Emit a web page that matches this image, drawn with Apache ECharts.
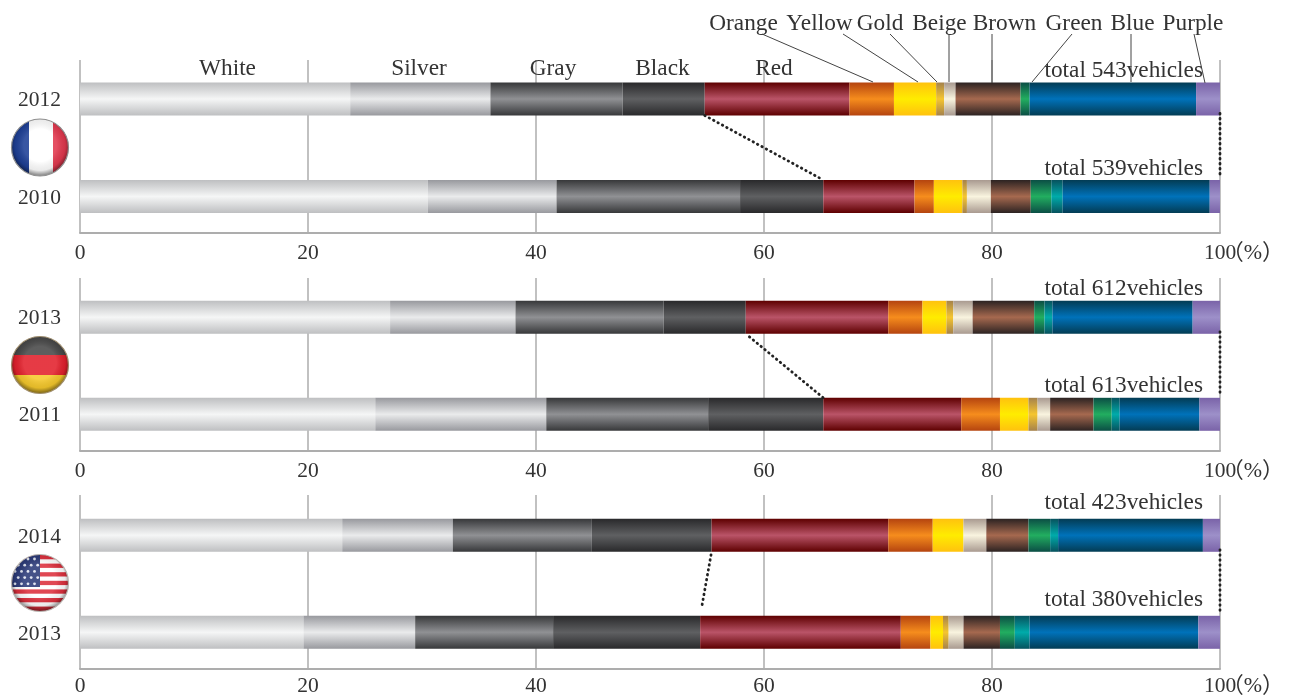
<!DOCTYPE html>
<html>
<head>
<meta charset="utf-8">
<title>Body colours</title>
<style>
    html, body { margin: 0; padding: 0; background: #fff; }
    #main { width: 1289px; height: 695px; }
</style>
<script src="https://cdn.jsdelivr.net/npm/echarts@6/dist/echarts.min.js"></script>
</head>
<body>
<div id="main"></div>
<script>
// rows: France 2012, France 2010, Germany 2013, Germany 2011, USA 2014, USA 2013
var years = ['2012', '2010', '2013', '2011', '2014', '2013'];
var totals = [543, 539, 612, 613, 423, 380];
var tickValues = [0, 20, 40, 60, 80, 100];

var white = [23.7, 30.5, 27.2, 25.9, 23.0, 19.6];
var silver = [12.3, 11.3, 11.0, 15.0, 9.7, 9.8];
var gray = [11.6, 16.1, 13.0, 14.2, 12.2, 12.1];
var black = [7.2, 7.3, 7.2, 10.1, 10.5, 12.9];
var red = [12.7, 8.0, 12.5, 12.1, 15.5, 17.6];
var orange = [3.9, 1.7, 3.0, 3.4, 3.9, 2.6];
var yellow = [3.7, 2.5, 2.1, 2.5, 2.7, 1.1];
var gold = [0.7, 0.4, 0.6, 0.8, 0, 0.5];
var beige = [1.0, 2.1, 1.7, 1.1, 2.0, 1.3];
var brown = [5.7, 3.5, 5.4, 3.8, 3.7, 3.2];
var green = [0.8, 1.8, 0.9, 1.6, 1.9, 1.3];
var teal = [0, 1.0, 0.7, 0.7, 0.7, 1.3];
var blue = [14.6, 12.9, 12.3, 7.0, 12.7, 14.8];
var purple = [2.1, 0.9, 2.4, 1.8, 1.5, 1.9];

var segments = [
    { name: 'White', values: white, edge: '#bebfc1', mid: '#f5f6f6' },
    { name: 'Silver', values: silver, edge: '#98999e', mid: '#eaebec' },
    { name: 'Gray', values: gray, edge: '#37383a', mid: '#909194' },
    { name: 'Black', values: black, edge: '#29292b', mid: '#5f6062' },
    { name: 'Red', values: red, edge: '#5e0000', mid: '#ba5468' },
    { name: 'Orange', values: orange, edge: '#b5440f', mid: '#f68d1d' },
    { name: 'Yellow', values: yellow, edge: '#ffc20e', mid: '#ffec00' },
    { name: 'Gold', values: gold, edge: '#a5824c', mid: '#f5c52f' },
    { name: 'Beige', values: beige, edge: '#a99a90', mid: '#f9f4df' },
    { name: 'Brown', values: brown, edge: '#2c2322', mid: '#a6694f' },
    { name: 'Green', values: green, edge: '#0b4e45', mid: '#22ae60' },
    { name: 'Teal', values: teal, edge: '#07525e', mid: '#00abaa' },
    { name: 'Blue', values: blue, edge: '#033c54', mid: '#0072ba' },
    { name: 'Purple', values: purple, edge: '#7a63a8', mid: '#9d90c9' }
];

// layout of the three panels, pixels
var serif = '"Liberation Serif", "Noto Sans CJK JP", serif';
var textColor = '#333';
var axisColor = '#adadad';
var barHeight = 33;
var panels = [
    { top: 60, bottom: 233, rows: [99, 196.5], gaps: [[0, 0], [-2, 5]], tickMargin: 10, tickY: 253, labelLine: 3 },
    { top: 278, bottom: 451, rows: [317.3, 414.3], gaps: [[3, 0], [-2, 5]], tickMargin: 10, tickY: 471, labelLine: 3 },
    { top: 495, bottom: 669, rows: [535.3, 632.3], gaps: [[3, 7], [-2, 4]], tickMargin: 7, tickY: 686, labelLine: 4 }
];

// 上方文字和引线
var topLabels = [
    { text: 'Orange', x: 743.5, from: [762, 34], to: [873, 82] },
    { text: 'Yellow', x: 819.5, from: [843, 34], to: [918, 82] },
    { text: 'Gold', x: 880, from: [890, 34], to: [937, 82] },
    { text: 'Beige', x: 939.5, from: [949, 34], to: [949, 82] },
    { text: 'Brown', x: 1004.5, from: [992, 34], to: [992, 83] },
    { text: 'Green', x: 1074, from: [1072, 34], to: [1032, 82] },
    { text: 'Blue', x: 1132.5, from: [1131, 34], to: [1131, 82] },
    { text: 'Purple', x: 1193, from: [1194, 34], to: [1205, 83] }
];
var midLabels = [
    { text: 'White', x: 227.5 },
    { text: 'Silver', x: 419 },
    { text: 'Gray', x: 553 },
    { text: 'Black', x: 662.5 },
    { text: 'Red', x: 774 }
];
var totalLabelY = [69, 167, 287, 384, 501, 598];

var flagShade = function(inner, ring) {
    var svg = '<svg xmlns="http://www.w3.org/2000/svg" width="62" height="62" viewBox="0 0 62 62">' +
        '<defs><clipPath id="c"><circle cx="31" cy="31" r="28.5"/></clipPath>' +
        '<radialGradient id="s" cx="50%" cy="46%" r="52%">' +
        '<stop offset="0.55" stop-color="#fff" stop-opacity="0.12"/>' +
        '<stop offset="0.85" stop-color="#000" stop-opacity="0.08"/>' +
        '<stop offset="1" stop-color="#000" stop-opacity="0.42"/></radialGradient></defs>' +
        '<g clip-path="url(#c)">' + inner + '</g>' +
        '<circle cx="31" cy="31" r="28.5" fill="url(#s)" stroke="' + ring + '" stroke-width="1.2"/></svg>';
    return 'data:image/svg+xml;charset=utf-8,' + encodeURIComponent(svg);
};

var usaFlag = function() {
    var inner = '<rect width="62" height="62" fill="#fff"/>';
    for (var i = 0; i < 7; i++) {
        inner += '<rect x="0" y="' + (3 + i * 8.6) + '" width="62" height="4.3" fill="#dc2f3c"/>';
    }
    inner += '<rect x="0" y="0" width="31" height="35" fill="#2b3a78"/>';
    for (var r = 0; r < 5; r++) {
        for (var c = 0; c < 4; c++) {
            inner += '<circle cx="' + (6 + c * 6.5 + (r % 2) * 3.2) + '" cy="' + (7 + r * 6.2) + '" r="1.4" fill="#dfe4f0"/>';
        }
    }
    return flagShade(inner, '#b9b4b0');
};

var flags = [
    { y: 147.5, image: flagShade('<rect width="62" height="62" fill="#fff"/><rect width="20" height="62" fill="#1d3f96"/><rect x="44" width="18" height="62" fill="#e2384e"/>', '#8f8f8f') },
    { y: 365, image: flagShade('<rect width="62" height="21" fill="#484848"/><rect y="21" width="62" height="20" fill="#e3202c"/><rect y="41" width="62" height="21" fill="#f6c92c"/>', '#a08f70') },
    { y: 583, image: usaFlag() }
];

var grids = [], xAxes = [], yAxes = [], series = [];

panels.forEach(function(panel, p) {
    var axisGrid = p * 2,
        barGrid = p * 2 + 1,
        gap = panel.rows[1] - panel.rows[0];

    // 刻度和竖线
    grids.push({ left: 80, right: 69, top: panel.top, height: panel.bottom - panel.top, outerBoundsMode: 'none' });
    xAxes.push({
        gridIndex: axisGrid,
        type: 'value',
        min: 0,
        max: 100,
        interval: 20,
        axisLine: { show: true, lineStyle: { color: axisColor, width: 2 } },
        axisTick: { show: false },
        axisLabel: {
            color: textColor,
            fontFamily: serif,
            fontSize: 21.5,
            margin: panel.tickMargin,
            customValues: tickValues
        },
        splitLine: { show: true, lineStyle: { color: axisColor, width: 1.5 } }
    });
    yAxes.push({ gridIndex: axisGrid, type: 'category', show: false, data: [''] });

    // 条形
    grids.push({ left: 80, right: 69, top: panel.rows[0] - gap / 2, height: gap * 2, outerBoundsMode: 'none' });
    xAxes.push({ gridIndex: barGrid, type: 'value', min: 0, max: 100, show: false });
    yAxes.push({
        gridIndex: barGrid,
        type: 'category',
        inverse: true,
        data: years.slice(p * 2, p * 2 + 2),
        axisLine: { show: false },
        axisTick: { show: false },
        axisLabel: {
            color: textColor,
            fontFamily: serif,
            fontSize: 21.5,
            margin: 19,
            verticalAlign: 'top',
            lineHeight: panel.labelLine
        }
    });

    segments.forEach(function(seg) {
        series.push({
            name: seg.name,
            type: 'bar',
            stack: 'panel' + p,
            xAxisIndex: barGrid,
            yAxisIndex: barGrid,
            barWidth: barHeight,
            silent: true,
            itemStyle: {
                color: {
                    type: 'linear', x: 0, y: 0, x2: 0, y2: 1,
                    colorStops: [
                        { offset: 0, color: seg.edge },
                        { offset: 0.5, color: seg.mid },
                        { offset: 1, color: seg.edge }
                    ]
                }
            },
            data: seg.values.slice(p * 2, p * 2 + 2)
        });
    });

    // 虚线：black 的累计位置和 100
    var cumulative = function(row) {
        return white[row] + silver[row] + gray[row] + black[row];
    };
    series.push({
        type: 'custom',
        xAxisIndex: barGrid,
        yAxisIndex: barGrid,
        silent: true,
        clip: false,
        z: 5,
        data: [
            [cumulative(p * 2), cumulative(p * 2 + 1), 0],
            [100, 100, 1]
        ],
        renderItem: function(params, api) {
            var inset = panel.gaps[api.value(2)],
                start = api.coord([api.value(0), 0]),
                end = api.coord([api.value(1), 1]),
                y1 = start[1] + barHeight / 2,
                y2 = end[1] - barHeight / 2,
                t1 = inset[0] / (y2 - y1),
                t2 = inset[1] / (y2 - y1),
                dx = end[0] - start[0];
            return {
                type: 'line',
                shape: {
                    x1: start[0] + dx * t1,
                    y1: y1 + inset[0],
                    x2: end[0] - dx * t2,
                    y2: y2 - inset[1]
                },
                style: { stroke: '#222', lineWidth: 2.8, lineDash: [0.5, 4.5], lineCap: 'round', fill: null }
            };
        }
    });
});

var makeText = function(text, x, y, align, size) {
    return {
        type: 'text',
        x: x,
        y: y + 2,
        z: 20,
        style: {
            text: text,
            fill: textColor,
            font: (size || 23.3) + 'px ' + serif,
            align: align || 'center',
            verticalAlign: 'middle'
        }
    };
};

var graphics = [];

topLabels.forEach(function(item) {
    graphics.push(makeText(item.text, item.x, 22));
    graphics.push({
        type: 'line',
        z: 19,
        shape: { x1: item.from[0], y1: item.from[1], x2: item.to[0], y2: item.to[1] },
        style: { stroke: '#444', lineWidth: 1 }
    });
});
midLabels.forEach(function(item) {
    graphics.push(makeText(item.text, item.x, 67));
});
totals.forEach(function(total, index) {
    graphics.push(makeText('total ' + total + 'vehicles', 1203, totalLabelY[index], 'right'));
});
panels.forEach(function(panel) {
    graphics.push(makeText('（%）', 1284, panel.tickY - 2, 'right', 22));
});
flags.forEach(function(flag) {
    graphics.push({
        type: 'image',
        x: 9,
        y: flag.y - 31,
        z: 20,
        style: { image: flag.image, width: 62, height: 62 }
    });
});

var chart = echarts.init(document.getElementById('main'));
chart.setOption({
    animation: false,
    backgroundColor: '#fff',
    grid: grids,
    xAxis: xAxes,
    yAxis: yAxes,
    series: series,
    graphic: { elements: graphics }
});
</script>
</body>
</html>
